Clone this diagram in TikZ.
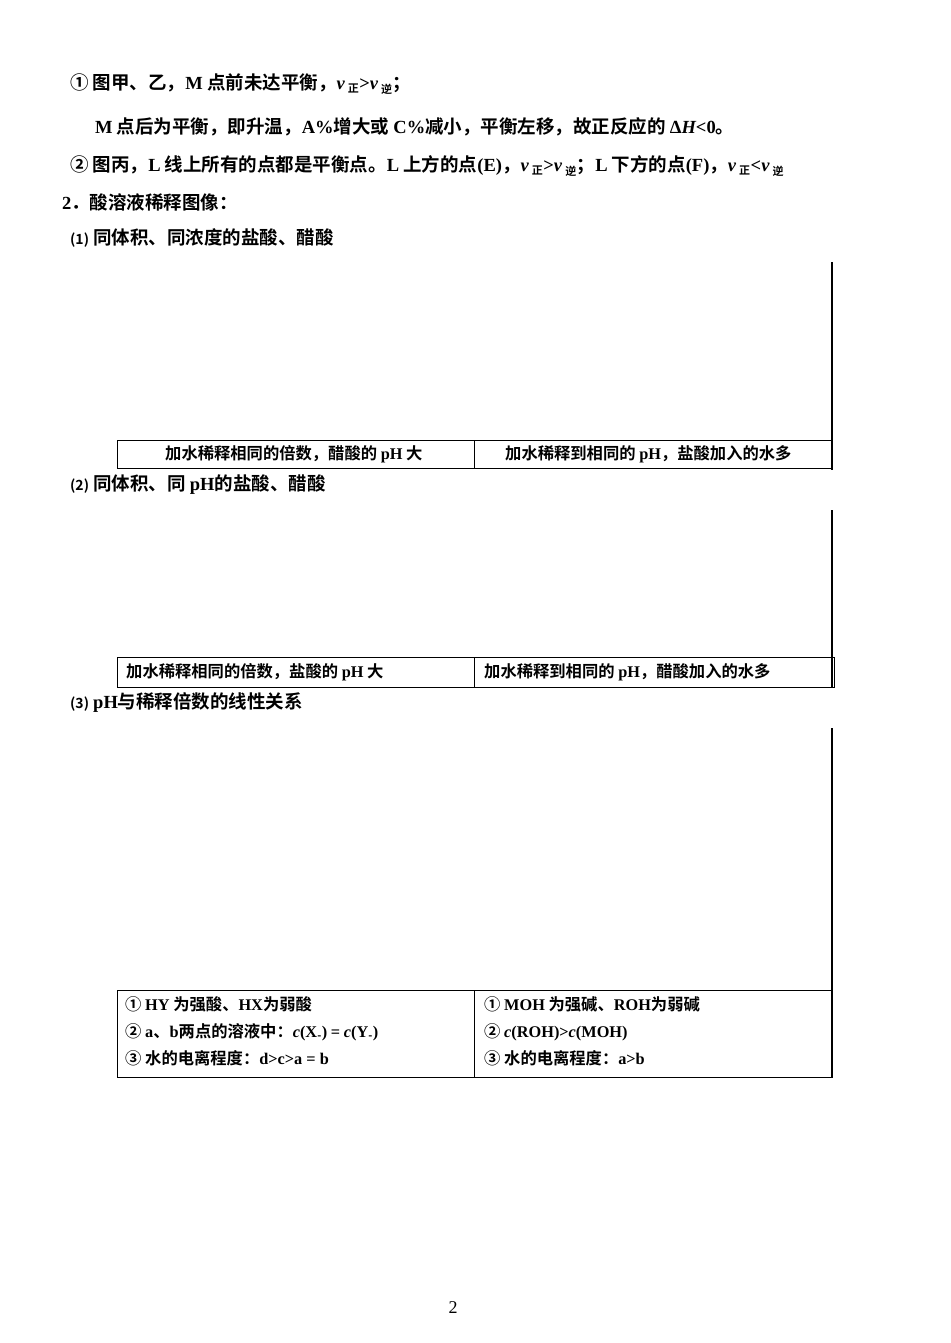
\documentclass[tikz,border=0pt]{standalone}
\usepackage{fontspec}
\setmainfont{Noto Sans CJK SC}[BoldFont={Noto Sans CJK SC Bold}]
\newfontfamily\lat{Liberation Serif}
\newcommand{\R}[1]{{\lat\bfseries #1}}
\newcommand{\I}[1]{{\lat\bfseries\itshape #1}}
\newcommand{\sub}[1]{$_{\hbox{\fontsize{11}{11}\selectfont\bfseries #1}}$}
\begin{document}
\begin{tikzpicture}[x=1pt,y=-1pt,
  txt/.style={anchor=base west,inner sep=0pt,font=\fontsize{18.5}{18.5}\selectfont\bfseries},
  cell/.style={anchor=base west,inner sep=0pt,font=\fontsize{16.3}{16.3}\selectfont\bfseries},
  box/.style={draw,line width=0.8pt},
  thick/.style={line width=2pt}]
\useasboundingbox (0,0) rectangle (950,1343);
\node[txt] (l1) at (70,90) {①\ 图甲、乙，\R{M} 点前未达平衡，\I{v}\,\sub{正}\R{>}\I{v}\,\sub{逆}；};
\node[txt] (l2) at (95,134) {\R{M} 点后为平衡，即升温，\R{A\%}增大或 \R{C\%}减小，平衡左移，故正反应的 \R{Δ}\I{H}\R{<0}。};
\node[txt] (l3) at (70,172) {②\ 图丙，\R{L} 线上所有的点都是平衡点。\R{L} 上方的点\R{(E)}，\I{v}\,\sub{正}\R{>}\I{v}\,\sub{逆}；\R{L} 下方的点\R{(F)}，\I{v}\,\sub{正}\R{<}\I{v}\,\sub{逆}};
\node[txt] (l4) at (62,210) {\R{2}．酸溶液稀释图像：};
\node[txt] (l5) at (70,244) {{\fontsize{14}{14}\selectfont(1)}\ 同体积、同浓度的盐酸、醋酸};
% table 1
\draw[thick] (832,262) coordinate (t1a) -- (832,470) coordinate (t1b);
\draw[box] (117,440) rectangle (832,468);
\draw[box] (474,440) -- (474,468);
\node[cell] (c11) at (165,459) {加水稀释相同的倍数，醋酸的 \R{pH} 大};
\node[cell] (c12) at (505,459) {加水稀释到相同的 \R{pH}，盐酸加入的水多};
\node[txt] (l6) at (70,490) {{\fontsize{14}{14}\selectfont(2)}\ 同体积、同 \R{pH}的盐酸、醋酸};
% table 2
\draw[thick] (832,510) -- (832,687);
\draw[box] (117,657) rectangle (834,687);
\draw[box] (474,657) -- (474,687);
\node[cell] (c21) at (126,677) {加水稀释相同的倍数，盐酸的 \R{pH} 大};
\node[cell] (c22) at (484,677) {加水稀释到相同的 \R{pH}，醋酸加入的水多};
\node[txt] (l7) at (70,708) {{\fontsize{14}{14}\selectfont(3)}\ \R{pH}与稀释倍数的线性关系};
% table 3
\draw[thick] (832,728) -- (832,1078);
\draw[box] (117,990) rectangle (832,1077);
\draw[box] (474,990) -- (474,1077);
\node[cell] (c31) at (125,1010) {①\ \R{HY} 为强酸、\R{HX}为弱酸};
\node[cell] (c32) at (125,1037) {②\ \R{a}、\R{b}两点的溶液中：\I{c}\R{(X}\sub{-}\R{)} \R{=} \I{c}\R{(Y}\sub{-}\R{)}};
\node[cell] (c33) at (125,1064) {③\ 水的电离程度：\R{d>c>a = b}};
\node[cell] (c34) at (484,1010) {①\ \R{MOH} 为强碱、\R{ROH}为弱碱};
\node[cell] (c35) at (484,1037) {②\ \I{c}\R{(ROH)>}\I{c}\R{(MOH)}};
\node[cell] (c36) at (484,1064) {③\ 水的电离程度：\R{a>b}};
\node[anchor=base,inner sep=0pt,font=\lat\fontsize{18}{18}\selectfont] (pg) at (453,1313) {2};
\end{tikzpicture}
\end{document}
